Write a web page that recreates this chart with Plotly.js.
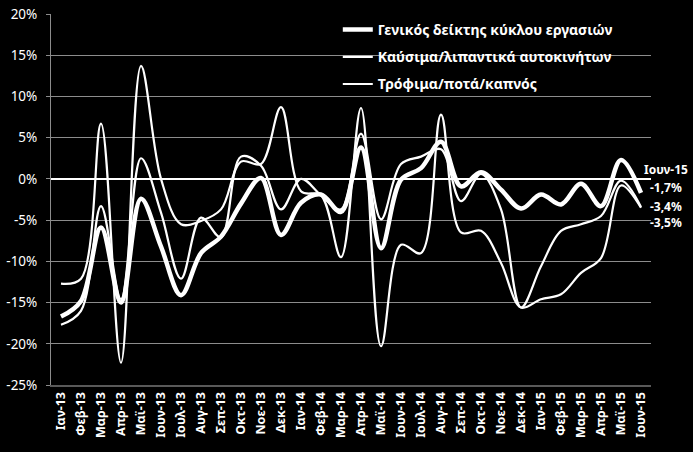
<!DOCTYPE html>
<html>
<head>
<meta charset="utf-8">
<script src="https://cdn.plot.ly/plotly-3.0.1.min.js"></script>
<style>html,body{margin:0;padding:0;background:#000;}#chart{width:693px;height:452px;}</style>
</head>
<body>
<div id="chart"></div>
<script>
const months = ['Ιαν-13','Φεβ-13','Μαρ-13','Απρ-13','Μαϊ-13','Ιουν-13','Ιουλ-13','Αυγ-13','Σεπ-13','Οκτ-13','Νοε-13','Δεκ-13','Ιαν-14','Φεβ-14','Μαρ-14','Απρ-14','Μαϊ-14','Ιουν-14','Ιουλ-14','Αυγ-14','Σεπ-14','Οκτ-14','Νοε-14','Δεκ-14','Ιαν-15','Φεβ-15','Μαρ-15','Απρ-15','Μαϊ-15','Ιουν-15'];

const general = [-16.7,-14.8,-5.9,-15.0,-2.4,-8.2,-14.1,-9.0,-7.0,-3.0,0.1,-6.8,-2.9,-1.9,-4.0,3.8,-8.4,-0.1,1.3,4.5,-0.9,0.8,-1.3,-3.6,-1.9,-3.1,-0.6,-3.3,2.3,-1.7];
const fuels = [-17.7,-16.0,-3.3,-14.6,2.5,-4.1,-12.1,-4.7,-7.1,2.7,1.6,-3.7,0.0,-2.0,-3.7,5.5,-4.9,1.8,2.7,3.6,-2.7,0.6,-3.7,-15.6,-10.6,-6.3,-5.5,-4.5,-0.2,-3.4];
const food = [-12.7,-12.1,6.7,-22.3,13.7,0.0,-5.5,-5.1,-3.7,2.1,1.8,8.7,-1.5,-2.0,-9.5,8.6,-20.3,-8.0,-9.0,7.8,-6.5,-6.3,-10.2,-15.6,-14.6,-14.0,-11.4,-9.6,-0.8,-3.5];

const seriesNames = ['Γενικός δείκτης κύκλου εργασιών','Καύσιμα/λιπαντικά αυτοκινήτων','Τρόφιμα/ποτά/καπνός'];
const yTickVals = [-25,-20,-15,-10,-5,0,5,10,15,20];
const yTickText = ['-25%','-20%','-15%','-10%','-5%','0%','5%','10%','15%','20%'];

const FONT = 'Noto Sans, Open Sans, sans-serif';
const widths = [4.5, 2.2, 2.2];
const allSeries = [general, fuels, food];

const traces = allSeries.map((vals, i) => ({
  x: months, y: vals, type: 'scatter', mode: 'lines',
  name: seriesNames[i], legendgroup: 'g' + i,
  line: {color: '#ffffff', width: widths[i], shape: 'spline', smoothing: 1}
}));

const fmt = v => v.toFixed(1).replace('.', ',') + '%';
const last = months.length - 1;
const annotations = [
  {x: months[last], y: general[last], text: months[last], yshift: 23},
  {x: months[last], y: general[last], text: fmt(general[last]), yshift: 5},
  {x: months[last], y: fuels[last], text: fmt(fuels[last]), yshift: 0},
  {x: months[last], y: food[last], text: fmt(food[last]), yshift: -15}
].map(a => Object.assign({xref: 'x', yref: 'y', showarrow: false, xanchor: 'center', yanchor: 'middle', xshift: 25,
  font: {family: FONT, size: 12, color: '#ffffff', weight: 'bold'}}, a));

const layout = {
  width: 693, height: 452,
  paper_bgcolor: '#000000', plot_bgcolor: '#000000',
  margin: {l: 51, r: 42, t: 14, b: 67},
  showlegend: true,
  legend: {x: 0.478, y: 1.0, xanchor: 'left', yanchor: 'top', bgcolor: 'rgba(0,0,0,0)',
    font: {family: FONT, size: 14, color: '#ffffff', weight: 'bold'}, tracegroupgap: 6, itemwidth: 30},
  xaxis: {type: 'category', range: [-0.5, months.length - 0.5], showgrid: false, zeroline: false, showline: true, linecolor: '#595959', linewidth: 2,
    tickangle: -90, ticks: '', tickfont: {family: FONT, size: 12.5, color: '#ffffff', weight: 'bold'}, automargin: false},
  yaxis: {range: [-25, 20], tickvals: yTickVals, ticktext: yTickText, showgrid: true, gridcolor: '#8c8c8c', gridwidth: 1,
    zeroline: true, zerolinecolor: '#ffffff', zerolinewidth: 1.5, showline: true, linecolor: '#8c8c8c', linewidth: 1,
    ticks: 'outside', ticklen: 4, tickcolor: '#8c8c8c', ticklabelstandoff: 6,
    tickfont: {family: FONT, size: 13.5, color: '#ffffff'}, automargin: false},
  annotations: annotations
};

Plotly.newPlot('chart', traces, layout, {displayModeBar: false, staticPlot: true});
</script>
</body>
</html>
